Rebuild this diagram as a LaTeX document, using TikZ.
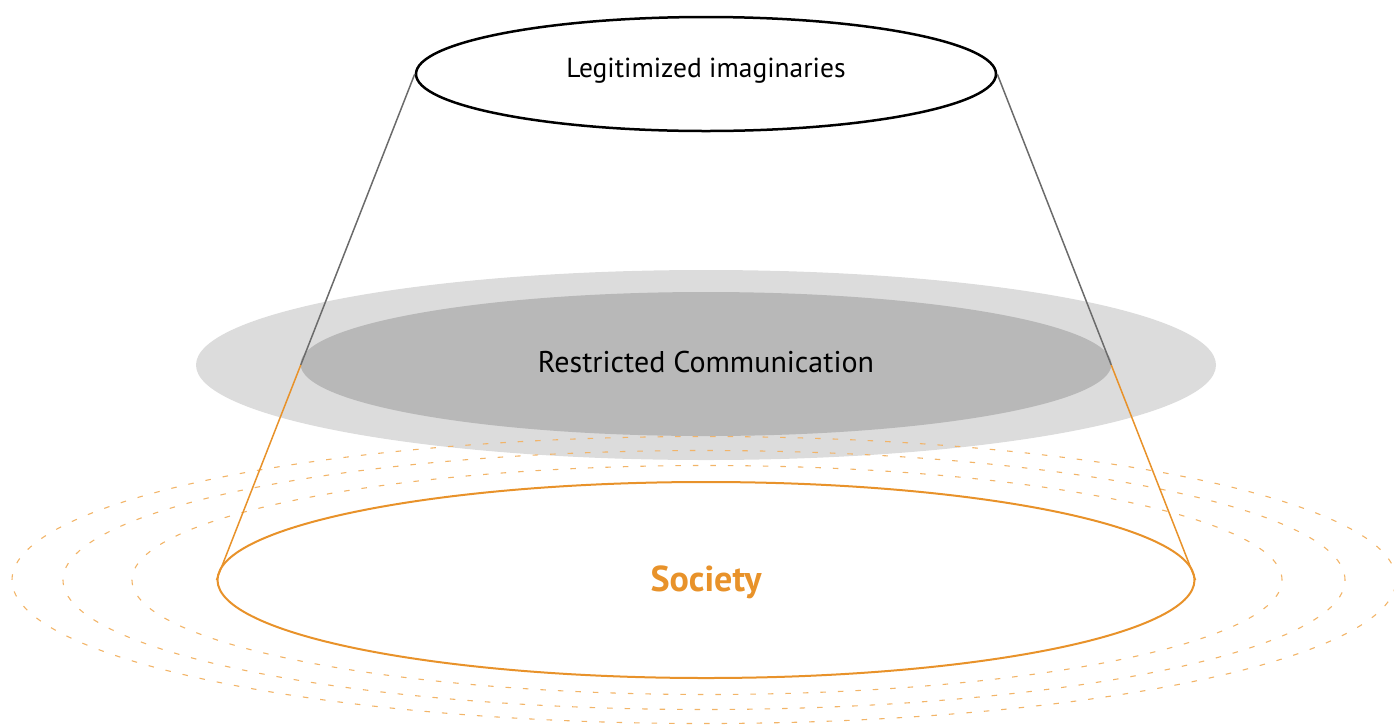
\documentclass[tikz,border=0pt]{standalone}
\usepackage{fontspec}
\setmainfont{PT Sans}
\usetikzlibrary{shapes.geometric,calc}
\definecolor{socorange}{HTML}{E8922A}
\definecolor{ringorange}{HTML}{F2B468}
\definecolor{greyout}{HTML}{DCDCDC}
\definecolor{greyin}{HTML}{B8B8B8}
\definecolor{conegrey}{HTML}{6B6B6B}
\tikzset{
  ring/.style={ellipse, draw=ringorange, line width=1.1pt, dash pattern=on 5.5pt off 12pt, inner sep=0pt},
}
\begin{document}
\begin{tikzpicture}[x=1pt,y=-1pt]
\useasboundingbox (0,0) rectangle (1394,724);
% light grey ellipse
\node[ellipse, fill=greyout, minimum width=1020pt, minimum height=190pt, inner sep=0pt] (gout) at (706,365) {};
% dashed rings
\node[ring, minimum width=1384pt, minimum height=287pt] (r3) at (704,580) {};
\node[ring, minimum width=1282pt, minimum height=259pt] (r2) at (704,580) {};
\node[ring, minimum width=1150pt, minimum height=229pt] (r1) at (707,580) {};
% dark grey ellipse
\node[ellipse, fill=greyin, minimum width=811pt, minimum height=144pt, inner sep=0pt] (gin) at (706,364) {};
\node[font=\fontsize{30}{34}\selectfont, text=black] (rc) at (706,362) {Restricted Communication};
% top ellipse
\node[ellipse, draw=black, line width=2.5pt, fill=white, minimum width=580pt, minimum height=114pt, inner sep=0pt] (top) at (706,74) {};
\node[font=\fontsize{27.5}{32}\selectfont, text=black] (li) at (706,71) {Legitimized imaginaries};
% society ellipse
\node[ellipse, draw=socorange, line width=2pt, minimum width=977pt, minimum height=196pt, inner sep=0pt] (soc) at (706,580) {};
\node[font=\bfseries\fontsize{36}{40}\selectfont, text=socorange] (st) at (706,582) {Society};
% cone lines
\coordinate (lm) at ($(top.west)!0.575!(soc.west)$);
\coordinate (rm) at ($(top.east)!0.575!(soc.east)$);
\draw[conegrey, line width=1.5pt] (top.west) -- (lm);
\draw[socorange, line width=1.5pt] (lm) -- (soc.west);
\draw[conegrey, line width=1.5pt] (top.east) -- (rm);
\draw[socorange, line width=1.5pt] (rm) -- (soc.east);
\end{tikzpicture}
\end{document}
